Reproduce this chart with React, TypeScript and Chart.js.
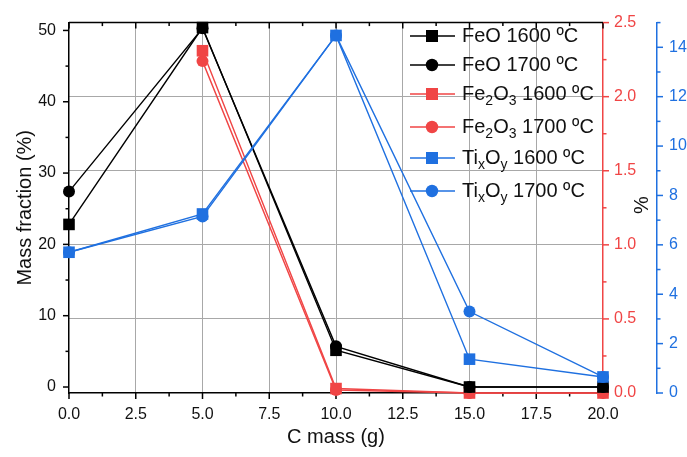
import React, { useEffect, useRef } from 'react';
import { Chart, registerables } from 'chart.js';
Chart.register(...registerables);

// ---- data ----
const cMass = [0, 5, 10, 15, 20];
const feo1600 = [22.8, 50.4, 5.15, 0, 0];
const feo1700 = [27.4, 50.3, 5.7, 0, 0];
const fe2o3_1600 = [null, 2.31, 0.03, 0, 0];
const fe2o3_1700 = [null, 2.24, 0.02, 0, 0];
const tixoy1600 = [5.7, 7.25, 14.48, 1.37, 0.65];
const tixoy1700 = [5.7, 7.15, 14.48, 3.3, 0.65];

// ---- ticks ----
const xTicks = [0, 2.5, 5, 7.5, 10, 12.5, 15, 17.5, 20];
const xMinorTicks = [1.25, 3.75, 6.25, 8.75, 11.25, 13.75, 16.25, 18.75];
const leftTicks = [0, 10, 20, 30, 40, 50];
const leftMinorTicks = [5, 15, 25, 35, 45];
const redTicks = [0, 0.5, 1, 1.5, 2, 2.5];
const redMinorTicks = [0.25, 0.75, 1.25, 1.75, 2.25];
const blueTicks = [0, 2, 4, 6, 8, 10, 12, 14];
const blueMinorTicks = [1, 3, 5, 7, 9, 11, 13, 15];

// ---- text ----
const xTitle = 'C mass (g)';
const leftTitle = 'Mass fraction (%)';
const rightTitle = '%';
// legend label pieces: [text, isSubscript]
const lblFeO1600: [string, boolean][] = [['FeO 1600 ºC', false]];
const lblFeO1700: [string, boolean][] = [['FeO 1700 ºC', false]];
const lblFe2O3_1600: [string, boolean][] = [['Fe', false], ['2', true], ['O', false], ['3', true], [' 1600 ºC', false]];
const lblFe2O3_1700: [string, boolean][] = [['Fe', false], ['2', true], ['O', false], ['3', true], [' 1700 ºC', false]];
const lblTi1600: [string, boolean][] = [['Ti', false], ['x', true], ['O', false], ['y', true], [' 1600 ºC', false]];
const lblTi1700: [string, boolean][] = [['Ti', false], ['x', true], ['O', false], ['y', true], [' 1700 ºC', false]];

const BLACK = '#000000';
const RED = '#F04545';
const BLUE = '#1F70E0';
const GRID = '#a8a8a8';
const TEXT = '#111111';
const FONT = "'Liberation Sans', Arial, sans-serif";

const series = [
  { label: lblFeO1600, values: feo1600, color: BLACK, style: 'rect', axis: 'y', order: 2 },
  { label: lblFeO1700, values: feo1700, color: BLACK, style: 'circle', axis: 'y', order: 3 },
  { label: lblFe2O3_1600, values: fe2o3_1600, color: RED, style: 'rect', axis: 'y1', order: 4 },
  { label: lblFe2O3_1700, values: fe2o3_1700, color: RED, style: 'circle', axis: 'y1', order: 5 },
  { label: lblTi1600, values: tixoy1600, color: BLUE, style: 'rect', axis: 'y2', order: 0 },
  { label: lblTi1700, values: tixoy1700, color: BLUE, style: 'circle', axis: 'y2', order: 1 },
];

const legendRowsY = [36, 65, 94, 127, 158, 191];

function strokeLine(ctx: CanvasRenderingContext2D, x1: number, y1: number, x2: number, y2: number) {
  ctx.beginPath();
  ctx.moveTo(x1, y1);
  ctx.lineTo(x2, y2);
  ctx.stroke();
}

const decorPlugin = {
  id: 'decor',
  beforeDatasetsDraw(chart: any) {
    const { ctx, chartArea: a, scales } = chart;
    ctx.save();
    ctx.lineWidth = 1.5;
    // top frame
    ctx.strokeStyle = BLACK;
    strokeLine(ctx, a.left, a.top, a.right, a.top);
    const MAJ = 6, MIN = 3.5;
    // x ticks: bottom outward, top inward
    const xs = scales.x;
    const xt = (vals: number[], len: number) => {
      for (const v of vals) {
        const px = xs.getPixelForValue(v);
        strokeLine(ctx, px, a.bottom, px, a.bottom + len);
        strokeLine(ctx, px, a.top, px, a.top + len);
      }
    };
    xt(xTicks, MAJ);
    xt(xMinorTicks, MIN);
    // left axis
    const ys = scales.y;
    for (const v of leftTicks) { const py = ys.getPixelForValue(v); strokeLine(ctx, a.left - MAJ, py, a.left, py); }
    for (const v of leftMinorTicks) { const py = ys.getPixelForValue(v); strokeLine(ctx, a.left - MIN, py, a.left, py); }
    // red axis
    const rs = scales.y1;
    ctx.strokeStyle = RED;
    for (const v of redTicks) { const py = rs.getPixelForValue(v); strokeLine(ctx, a.right, py, a.right + MAJ, py); }
    for (const v of redMinorTicks) { const py = rs.getPixelForValue(v); strokeLine(ctx, a.right, py, a.right + MIN, py); }
    // blue axis
    const bs = scales.y2;
    ctx.strokeStyle = BLUE;
    const bx = bs.left;
    for (const v of blueTicks) { const py = bs.getPixelForValue(v); strokeLine(ctx, bx, py, bx + MAJ, py); }
    for (const v of blueMinorTicks) { const py = bs.getPixelForValue(v); strokeLine(ctx, bx, py, bx + MIN, py); }
    ctx.restore();
  },
  afterDraw(chart: any) {
    const { ctx } = chart;
    ctx.save();
    // "%" title between the right axes
    ctx.fillStyle = TEXT;
    ctx.font = `20px ${FONT}`;
    ctx.textAlign = 'center';
    ctx.textBaseline = 'middle';
    ctx.translate(642, 205);
    ctx.rotate(-Math.PI / 2);
    ctx.fillText(rightTitle, 0, 0);
    ctx.restore();

    // legend
    ctx.save();
    series.forEach((s, i) => {
      const y = legendRowsY[i];
      ctx.strokeStyle = s.color;
      ctx.fillStyle = s.color;
      ctx.lineWidth = 1.5;
      strokeLine(ctx, 410, y, 455, y);
      if (s.style === 'rect') {
        ctx.fillRect(432 - 6, y - 6, 12, 12);
      } else {
        ctx.beginPath();
        ctx.arc(432, y, 6.2, 0, Math.PI * 2);
        ctx.fill();
      }
      let x = 462;
      ctx.fillStyle = TEXT;
      ctx.textAlign = 'left';
      ctx.textBaseline = 'middle';
      for (const [t, sub] of s.label) {
        ctx.font = sub ? `14px ${FONT}` : `20px ${FONT}`;
        ctx.fillText(t, x, sub ? y + 7 : y);
        x += ctx.measureText(t).width;
      }
    });
    ctx.restore();
  },
};

export default function App() {
  const ref = useRef<HTMLCanvasElement>(null);
  useEffect(() => {
    document.body.style.margin = '0';
    const canvas = ref.current!;
    const edgeTransparent = (lo: number, hi: number) => (c: any) =>
      c.tick && (c.tick.value === lo || c.tick.value === hi) ? 'rgba(0,0,0,0)' : GRID;
    const chart = new Chart(canvas, {
      type: 'line',
      data: {
        datasets: series.map((s) => ({
          label: s.label.map((p) => p[0]).join(''),
          data: cMass.map((x, i) => ({ x, y: s.values[i] as any })),
          yAxisID: s.axis,
          borderColor: s.color,
          backgroundColor: s.color,
          borderWidth: 1.4,
          pointStyle: s.style as any,
          pointRadius: s.style === 'rect' ? 8.2 : 6,
          pointBorderWidth: 0,
          pointBackgroundColor: s.color,
          order: s.order,
          clip: false as any,
          tension: 0,
        })),
      },
      options: {
        animation: false,
        responsive: false,
        events: [],
        layout: { padding: { top: 20, left: 0, right: 0, bottom: 0 } },
        plugins: { legend: { display: false }, tooltip: { enabled: false } },
        scales: {
          x: {
            type: 'linear',
            position: 'bottom',
            min: 0,
            max: 20,
            afterBuildTicks: (s: any) => { s.ticks = xTicks.map((v) => ({ value: v })); },
            afterFit: (s: any) => { s.height = 64; },
            grid: { color: edgeTransparent(0, 20), lineWidth: 1, drawTicks: false },
            border: { color: BLACK, width: 1.5 },
            ticks: {
              padding: 12, color: TEXT, font: { family: FONT, size: 16 },
              autoSkip: false, maxRotation: 0,
              callback: (v: any) => Number(v).toFixed(1),
            },
            title: { display: true, text: xTitle, color: TEXT, font: { family: FONT, size: 20 }, padding: { top: 0, bottom: 8 } },
          },
          y: {
            type: 'linear',
            position: 'left',
            min: -0.84,
            max: 51.1,
            afterBuildTicks: (s: any) => { s.ticks = leftTicks.map((v) => ({ value: v })); },
            afterFit: (s: any) => { s.width = 69; },
            grid: { drawOnChartArea: false, drawTicks: false },
            border: { color: BLACK, width: 1.5 },
            ticks: { padding: 13, color: TEXT, font: { family: FONT, size: 16 }, autoSkip: false, callback: (v: any) => String(v) },
            title: { display: true, text: leftTitle, color: TEXT, font: { family: FONT, size: 20 }, padding: { top: 13, bottom: 0 } },
          },
          y1: {
            type: 'linear',
            position: 'right',
            weight: 0,
            min: 0,
            max: 2.5,
            afterBuildTicks: (s: any) => { s.ticks = redTicks.map((v) => ({ value: v })); },
            afterFit: (s: any) => { s.width = 54; },
            grid: { drawOnChartArea: true, color: edgeTransparent(0, 2.5), lineWidth: 1, drawTicks: false },
            border: { color: RED, width: 1.5 },
            ticks: { padding: 11, color: RED, font: { family: FONT, size: 16 }, autoSkip: false, callback: (v: any) => Number(v).toFixed(1) },
          },
          y2: {
            type: 'linear',
            position: 'right',
            weight: 1,
            min: 0,
            max: 15,
            afterBuildTicks: (s: any) => { s.ticks = blueTicks.map((v) => ({ value: v })); },
            afterFit: (s: any) => { s.width = 30; },
            grid: { drawOnChartArea: false, drawTicks: false },
            border: { color: BLUE, width: 1.5 },
            ticks: { padding: 12, color: BLUE, font: { family: FONT, size: 16 }, autoSkip: false, callback: (v: any) => String(v) },
          },
        },
      } as any,
      plugins: [decorPlugin],
    });
    return () => chart.destroy();
  }, []);
  return (
    <div style={{ position: 'absolute', left: 0, top: 0, width: 687, height: 457 }}>
      <canvas ref={ref} width={687} height={457} style={{ display: 'block', width: 687, height: 457 }} />
    </div>
  );
}
